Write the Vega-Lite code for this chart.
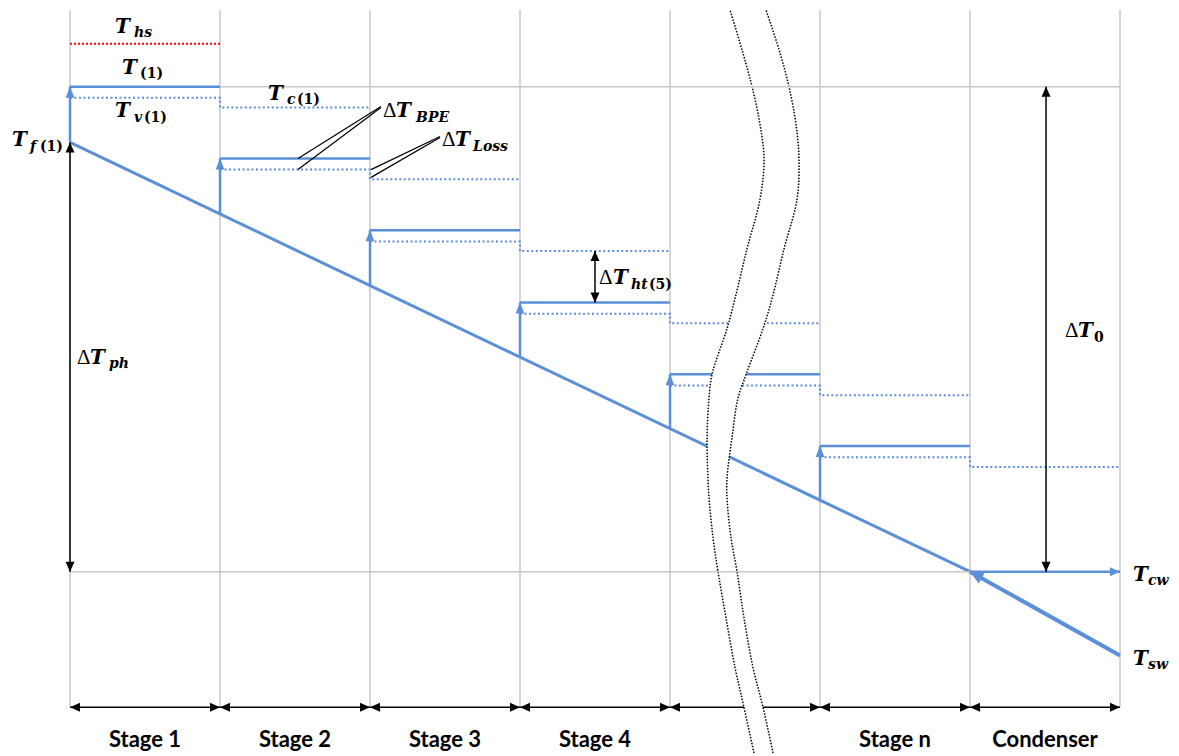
{
  "$schema": "https://vega.github.io/schema/vega-lite/v6.json",
  "width": 1179,
  "height": 756,
  "autosize": {"type": "fit", "contains": "padding"},
  "padding": 0,
  "background": "white",
  "config": {"view": {"stroke": null}, "axis": {"disable": true}},
  "datasets": {
    "gv": [{"s": 0, "t": 115.81, "t2": -27.93}, {"s": 1, "t": 115.81, "t2": -27.93}, {"s": 2, "t": 115.81, "t2": -27.93}, {"s": 3, "t": 115.81, "t2": -27.93}, {"s": 4, "t": 115.81, "t2": -27.93}, {"s": 5, "t": 115.81, "t2": -27.93}, {"s": 6, "t": 115.81, "t2": -27.93}, {"s": 7, "t": 115.81, "t2": -27.93}],
    "gh": [{"s": 1, "s2": 7, "t": 100}, {"s": 0, "s2": 6, "t": 0}],
    "ths": [{"s": 0, "s2": 1, "t": 108.83}],
    "stageT": [{"s": 0, "s2": 1, "t": 100}, {"s": 1, "s2": 2, "t": 85.2}, {"s": 2, "s2": 3, "t": 70.4}, {"s": 3, "s2": 4, "t": 55.5}, {"s": 4, "s2": 5, "t": 40.7}, {"s": 5, "s2": 6, "t": 25.9}],
    "vap": [
      {"g": 1, "k": 1, "s": 0, "t": 97.7}, {"g": 1, "k": 2, "s": 1, "t": 97.7}, {"g": 1, "k": 3, "s": 1, "t": 95.7}, {"g": 1, "k": 4, "s": 2, "t": 95.7},
      {"g": 2, "k": 1, "s": 1, "t": 82.9}, {"g": 2, "k": 2, "s": 2, "t": 82.9}, {"g": 2, "k": 3, "s": 2, "t": 80.9}, {"g": 2, "k": 4, "s": 3, "t": 80.9},
      {"g": 3, "k": 1, "s": 2, "t": 68.1}, {"g": 3, "k": 2, "s": 3, "t": 68.1}, {"g": 3, "k": 3, "s": 3, "t": 66.1}, {"g": 3, "k": 4, "s": 4, "t": 66.1},
      {"g": 4, "k": 1, "s": 3, "t": 53.2}, {"g": 4, "k": 2, "s": 4, "t": 53.2}, {"g": 4, "k": 3, "s": 4, "t": 51.2}, {"g": 4, "k": 4, "s": 5, "t": 51.2},
      {"g": 5, "k": 1, "s": 4, "t": 38.4}, {"g": 5, "k": 2, "s": 5, "t": 38.4}, {"g": 5, "k": 3, "s": 5, "t": 36.4}, {"g": 5, "k": 4, "s": 6, "t": 36.4},
      {"g": 6, "k": 1, "s": 5, "t": 23.6}, {"g": 6, "k": 2, "s": 6, "t": 23.6}, {"g": 6, "k": 3, "s": 6, "t": 21.6}, {"g": 6, "k": 4, "s": 7, "t": 21.6}
    ],
    "heat": [{"s": 0, "t": 88.5, "t2": 100}, {"s": 1, "t": 73.75, "t2": 85.2}, {"s": 2, "t": 59.0, "t2": 70.4}, {"s": 3, "t": 44.25, "t2": 55.5}, {"s": 4, "t": 29.5, "t2": 40.7}, {"s": 5, "t": 14.75, "t2": 25.9}],
    "feed": [{"s": 0, "t": 88.5, "s2": 6, "t2": 0}],
    "sw": [{"s": 7, "t": -17.25, "s2": 6, "t2": 0}],
    "swHead": [{"s": 6, "t": 0}],
    "cw": [{"s": 6, "s2": 7, "t": 0}],
    "cwHead": [{"s": 7, "t": 0}],
    "dT": [{"s": 0, "t": 0, "t2": 88.5}, {"s": 3.5, "t": 55.5, "t2": 66.1}, {"s": 6.507, "t": 0, "t2": 100}],
    "span": [{"s": 0, "s2": 1, "t": -27.93}, {"s": 1, "s2": 2, "t": -27.93}, {"s": 2, "s2": 3, "t": -27.93}, {"s": 3, "s2": 4, "t": -27.93}, {"s": 4, "s2": 5, "t": -27.93}, {"s": 5, "s2": 6, "t": -27.93}, {"s": 6, "s2": 7, "t": -27.93}],
    "lead": [{"s": 1.52, "t": 85.2, "s2": 2.073, "t2": 95.9}, {"s": 1.52, "t": 82.9, "s2": 2.073, "t2": 95.7}, {"s": 2.007, "t": 82.9, "s2": 2.467, "t2": 89.73}, {"s": 2.007, "t": 81.3, "s2": 2.467, "t2": 89.53}],
    "brk": [
      {"t": 115.81, "s": 4.400, "s2": 4.640}, {"t": 107.60, "s": 4.480, "s2": 4.727}, {"t": 100.00, "s": 4.547, "s2": 4.793}, {"t": 92.20, "s": 4.600, "s2": 4.840},
      {"t": 85.01, "s": 4.627, "s2": 4.860}, {"t": 76.80, "s": 4.600, "s2": 4.847}, {"t": 66.53, "s": 4.513, "s2": 4.760}, {"t": 56.26, "s": 4.433, "s2": 4.680},
      {"t": 50.10, "s": 4.380, "s2": 4.620}, {"t": 40.66, "s": 4.280, "s2": 4.507}, {"t": 35.73, "s": 4.260, "s2": 4.453}, {"t": 27.52, "s": 4.247, "s2": 4.413},
      {"t": 19.30, "s": 4.253, "s2": 4.380}, {"t": 15.20, "s": 4.260, "s2": 4.380}, {"t": 6.98, "s": 4.287, "s2": 4.407}, {"t": 0, "s": 4.320, "s2": 4.447},
      {"t": -9.45, "s": 4.373, "s2": 4.493}, {"t": -19.71, "s": 4.433, "s2": 4.553}, {"t": -27.93, "s": 4.493, "s2": 4.620}, {"t": -37.37, "s": 4.560, "s2": 4.687}
    ],
    "tMain": [
      {"s": 0.300, "t": 111.09, "txt": "T"}, {"s": 0.347, "t": 102.67, "txt": "T"}, {"s": 0.300, "t": 93.84, "txt": "T"}, {"s": 1.320, "t": 97.33, "txt": "T"},
      {"s": -0.387, "t": 87.68, "txt": "T"}, {"s": 2.173, "t": 93.84, "txt": "T"}, {"s": 2.567, "t": 87.68, "txt": "T"}, {"s": 3.620, "t": 59.34, "txt": "T"},
      {"s": 0.133, "t": 42.92, "txt": "T"}, {"s": 6.720, "t": 48.46, "txt": "T"}, {"s": 7.087, "t": -1.85, "txt": "T"}, {"s": 7.087, "t": -19.30, "txt": "T"}
    ],
    "tDelta": [{"s": 2.087, "t": 93.84, "txt": "Δ"}, {"s": 2.480, "t": 87.68, "txt": "Δ"}, {"s": 3.527, "t": 59.34, "txt": "Δ"}, {"s": 0.047, "t": 42.92, "txt": "Δ"}, {"s": 6.633, "t": 48.46, "txt": "Δ"}],
    "tSubI": [
      {"s": 0.427, "t": 110.27, "txt": "hs"}, {"s": 0.427, "t": 92.81, "txt": "v"}, {"s": 1.447, "t": 96.51, "txt": "c"}, {"s": -0.267, "t": 86.65, "txt": "f"},
      {"s": 2.307, "t": 92.81, "txt": "BPE"}, {"s": 2.687, "t": 86.65, "txt": "Loss"}, {"s": 3.740, "t": 58.32, "txt": "ht"}, {"s": 0.260, "t": 42.09, "txt": "ph"},
      {"s": 7.187, "t": -2.67, "txt": "cw"}, {"s": 7.187, "t": -20.12, "txt": "sw"}
    ],
    "tSubU": [
      {"s": 0.467, "t": 101.85, "txt": "(1)"}, {"s": 0.493, "t": 92.81, "txt": "(1)"}, {"s": 1.513, "t": 96.51, "txt": "(1)"}, {"s": -0.200, "t": 86.65, "txt": "(1)"},
      {"s": 3.860, "t": 58.32, "txt": "(5)"}, {"s": 6.827, "t": 47.43, "txt": "0"}
    ],
    "stg": [{"s": 0.5, "t": -36.14, "txt": "Stage 1"}, {"s": 1.5, "t": -36.14, "txt": "Stage 2"}, {"s": 2.5, "t": -36.14, "txt": "Stage 3"}, {"s": 3.5, "t": -36.14, "txt": "Stage 4"}, {"s": 5.5, "t": -36.14, "txt": "Stage n"}, {"s": 6.5, "t": -36.14, "txt": "Condenser"}]
  },
  "encoding": {
    "x": {"field": "s", "type": "quantitative", "scale": {"domain": [-0.46667, 7.39333], "nice": false, "zero": false}},
    "y": {"field": "t", "type": "quantitative", "scale": {"domain": [-37.372, 117.864], "nice": false, "zero": false}}
  },
  "layer": [
    {"data": {"name": "gv"}, "mark": {"type": "rule", "color": "#c8c8c8", "strokeWidth": 1.5}, "encoding": {"y2": {"field": "t2"}}},
    {"data": {"name": "ths"}, "mark": {"type": "rule", "color": "#ff0000", "strokeWidth": 2, "strokeDash": [2, 2]}, "encoding": {"x2": {"field": "s2"}}},
    {"data": {"name": "vap"}, "mark": {"type": "line", "color": "#5b8fd8", "strokeWidth": 2, "strokeDash": [2, 2.5]}, "encoding": {"detail": {"field": "g"}, "order": {"field": "k"}}},
    {"data": {"name": "stageT"}, "mark": {"type": "rule", "color": "#5b8fd8", "strokeWidth": 2.5}, "encoding": {"x2": {"field": "s2"}}},
    {"data": {"name": "heat"}, "mark": {"type": "rule", "color": "#5b8fd8", "strokeWidth": 2.5}, "encoding": {"y2": {"field": "t2"}}},
    {"data": {"name": "heat"}, "mark": {"type": "point", "shape": "M0,0L-0.8,2L0.8,2Z", "size": 121, "filled": true, "opacity": 1, "color": "#5b8fd8", "strokeWidth": 0}, "encoding": {"y": {"field": "t2", "type": "quantitative", "scale": {"domain": [-37.372, 117.864], "nice": false, "zero": false}}}},
    {"data": {"name": "feed"}, "mark": {"type": "rule", "color": "#5b8fd8", "strokeWidth": 3}, "encoding": {"x2": {"field": "s2"}, "y2": {"field": "t2"}}},
    {"data": {"name": "sw"}, "mark": {"type": "rule", "color": "#5b8fd8", "strokeWidth": 4}, "encoding": {"x2": {"field": "s2"}, "y2": {"field": "t2"}}},
    {"data": {"name": "swHead"}, "mark": {"type": "point", "shape": "M0,0L-0.9,2L0.9,2Z", "size": 180, "angle": 299.25, "filled": true, "opacity": 1, "color": "#5b8fd8", "strokeWidth": 0}},
    {"data": {"name": "cw"}, "mark": {"type": "rule", "color": "#5b8fd8", "strokeWidth": 2.5}, "encoding": {"x2": {"field": "s2"}}},
    {"data": {"name": "cwHead"}, "mark": {"type": "point", "shape": "M0,0L-0.9,2L0.9,2Z", "size": 100, "angle": 90, "filled": true, "opacity": 1, "color": "#5b8fd8", "strokeWidth": 0}},
    {"data": {"name": "span"}, "mark": {"type": "rule", "color": "black", "strokeWidth": 1.5}, "encoding": {"x2": {"field": "s2"}}},
    {"data": {"name": "span"}, "mark": {"type": "point", "shape": "M0,0L-0.9,2L0.9,2Z", "size": 100, "angle": 270, "filled": true, "opacity": 1, "color": "black", "strokeWidth": 0}},
    {"data": {"name": "span"}, "mark": {"type": "point", "shape": "M0,0L-0.9,2L0.9,2Z", "size": 100, "angle": 90, "filled": true, "opacity": 1, "color": "black", "strokeWidth": 0}, "encoding": {"x": {"field": "s2", "type": "quantitative", "scale": {"domain": [-0.46667, 7.39333], "nice": false, "zero": false}}}},
    {"data": {"name": "brk"}, "mark": {"type": "area", "orient": "horizontal", "interpolate": "catmull-rom", "color": "white", "opacity": 1}, "encoding": {"x2": {"field": "s2"}}},
    {"data": {"name": "brk"}, "mark": {"type": "line", "interpolate": "catmull-rom", "color": "black", "strokeWidth": 1.5, "strokeDash": [1.5, 1.5]}, "encoding": {"order": {"field": "t"}}},
    {"data": {"name": "brk"}, "mark": {"type": "line", "interpolate": "catmull-rom", "color": "black", "strokeWidth": 1.5, "strokeDash": [1.5, 1.5]}, "encoding": {"x": {"field": "s2", "type": "quantitative", "scale": {"domain": [-0.46667, 7.39333], "nice": false, "zero": false}}, "order": {"field": "t"}}},
    {"data": {"name": "gh"}, "mark": {"type": "rule", "color": "#c8c8c8", "strokeWidth": 1.5}, "encoding": {"x2": {"field": "s2"}}},
    {"data": {"name": "dT"}, "mark": {"type": "rule", "color": "black", "strokeWidth": 1.5}, "encoding": {"y2": {"field": "t2"}}},
    {"data": {"name": "dT"}, "mark": {"type": "point", "shape": "M0,0L-0.9,2L0.9,2Z", "size": 100, "angle": 180, "filled": true, "opacity": 1, "color": "black", "strokeWidth": 0}},
    {"data": {"name": "dT"}, "mark": {"type": "point", "shape": "M0,0L-0.9,2L0.9,2Z", "size": 100, "angle": 0, "filled": true, "opacity": 1, "color": "black", "strokeWidth": 0}, "encoding": {"y": {"field": "t2", "type": "quantitative", "scale": {"domain": [-37.372, 117.864], "nice": false, "zero": false}}}},
    {"data": {"name": "lead"}, "mark": {"type": "rule", "color": "black", "strokeWidth": 1.2}, "encoding": {"x2": {"field": "s2"}, "y2": {"field": "t2"}}},
    {"data": {"name": "tDelta"}, "mark": {"type": "text", "align": "left", "baseline": "alphabetic", "font": "Liberation Serif", "fontSize": 21, "fontWeight": "normal", "color": "black"}, "encoding": {"text": {"field": "txt"}}},
    {"data": {"name": "tMain"}, "mark": {"type": "text", "align": "left", "baseline": "alphabetic", "font": "DejaVu Serif", "fontSize": 20, "fontWeight": "bold", "fontStyle": "italic", "color": "black"}, "encoding": {"text": {"field": "txt"}}},
    {"data": {"name": "tSubI"}, "mark": {"type": "text", "align": "left", "baseline": "alphabetic", "font": "DejaVu Serif", "fontSize": 14, "fontWeight": "bold", "fontStyle": "italic", "color": "black"}, "encoding": {"text": {"field": "txt"}}},
    {"data": {"name": "tSubU"}, "mark": {"type": "text", "align": "left", "baseline": "alphabetic", "font": "DejaVu Serif", "fontSize": 14, "fontWeight": "bold", "color": "black"}, "encoding": {"text": {"field": "txt"}}},
    {"data": {"name": "stg"}, "mark": {"type": "text", "align": "center", "baseline": "alphabetic", "font": "Lato", "fontSize": 22, "fontWeight": "bold", "color": "black"}, "encoding": {"text": {"field": "txt"}}}
  ]
}
